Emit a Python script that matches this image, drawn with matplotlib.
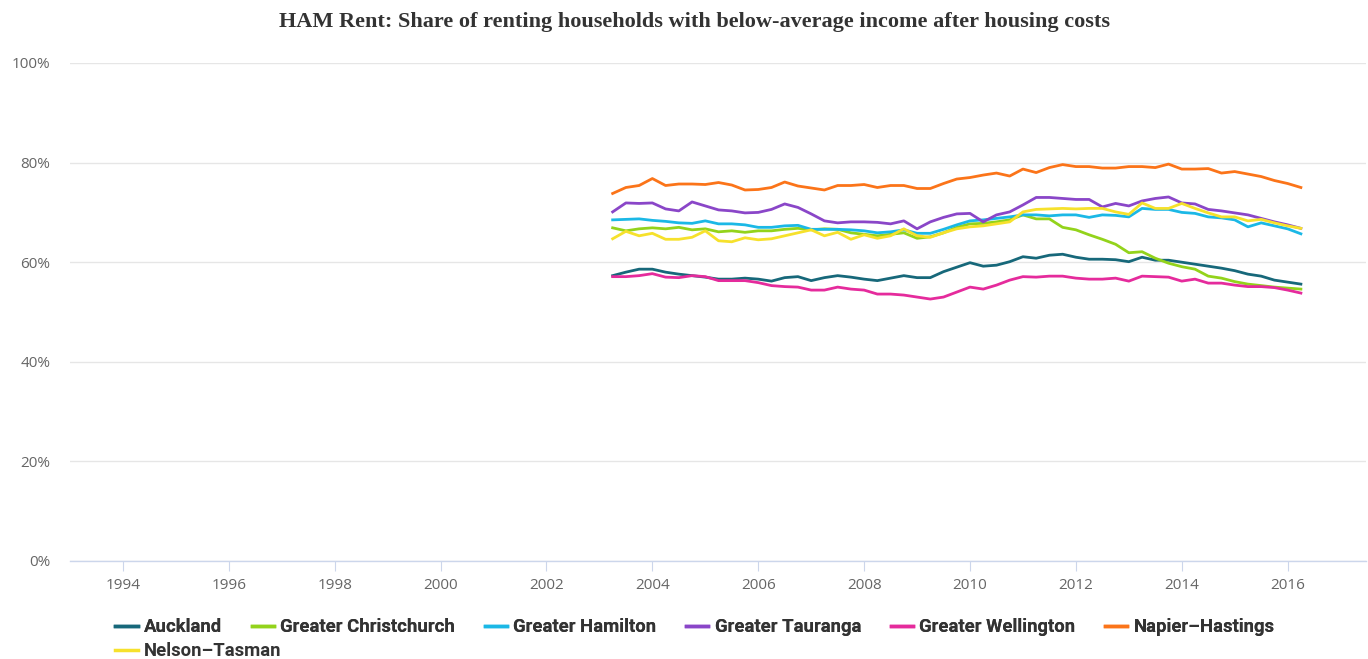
import matplotlib
matplotlib.use("Agg")
import matplotlib.pyplot as plt
import numpy as np
from matplotlib.lines import Line2D
from matplotlib.ticker import FuncFormatter

# Quarterly observations 2003 Q2 .. 2016 Q2
start_year = 2003.25
n_points = 53

auckland = [57.3, 58.0, 58.6, 58.6, 58.0, 57.6, 57.3, 57.0, 56.6,
            56.6, 56.8, 56.6, 56.2, 56.9, 57.1, 56.3, 56.9, 57.3,
            57.0, 56.6, 56.3, 56.8, 57.3, 56.9, 56.9, 58.1, 59.0,
            59.9, 59.2, 59.4, 60.1, 61.1, 60.8, 61.4, 61.6,
            61.0, 60.6, 60.6, 60.5, 60.1, 61.0, 60.4, 60.4, 60.0,
            59.6, 59.2, 58.8, 58.3, 57.6, 57.2, 56.4, 56.0, 55.6]
christchurch = [66.9, 66.3, 66.7, 66.9, 66.7, 67.0, 66.5, 66.7, 66.1,
                66.3, 66.0, 66.3, 66.3, 66.6, 66.8, 66.5, 66.7, 66.6,
                65.9, 65.6, 65.3, 65.6, 65.9, 64.8, 65.1, 65.9, 67.0,
                67.7, 67.8, 68.1, 68.5, 69.5, 68.7, 68.7, 67.0,
                66.5, 65.5, 64.6, 63.6, 61.9, 62.1, 60.8, 59.8, 59.1,
                58.6, 57.2, 56.8, 56.1, 55.6, 55.3, 55.0, 54.8, 54.6]
hamilton = [68.5, 68.6, 68.7, 68.4, 68.2, 67.9, 67.8, 68.3, 67.7,
            67.7, 67.5, 67.0, 67.0, 67.3, 67.4, 66.6, 66.6, 66.6,
            66.5, 66.3, 65.9, 66.1, 66.5, 65.8, 65.8, 66.6, 67.5,
            68.3, 68.5, 68.8, 69.1, 69.5, 69.5, 69.3, 69.5,
            69.5, 69.0, 69.5, 69.4, 69.1, 70.8, 70.6, 70.6, 70.0,
            69.8, 69.1, 68.9, 68.5, 67.1, 67.9, 67.3, 66.7, 65.7]
tauranga = [70.1, 71.9, 71.8, 71.9, 70.7, 70.3, 72.1, 71.3, 70.5,
            70.3, 69.9, 70.0, 70.6, 71.7, 71.0, 69.7, 68.3, 67.9,
            68.1, 68.1, 68.0, 67.7, 68.3, 66.7, 68.1, 69.0, 69.7,
            69.8, 68.1, 69.5, 70.1, 71.5, 73.0, 73.0, 72.8,
            72.6, 72.6, 71.1, 71.8, 71.3, 72.3, 72.8, 73.1, 71.9,
            71.7, 70.6, 70.3, 69.9, 69.5, 68.8, 68.1, 67.5, 66.8]
wellington = [57.1, 57.1, 57.3, 57.7, 57.0, 56.9, 57.3, 57.1, 56.3,
              56.3, 56.3, 55.9, 55.3, 55.1, 55.0, 54.4, 54.4, 55.0,
              54.6, 54.4, 53.6, 53.6, 53.4, 53.0, 52.6, 53.0, 54.0,
              55.0, 54.6, 55.4, 56.4, 57.1, 57.0, 57.2, 57.2,
              56.8, 56.6, 56.6, 56.8, 56.2, 57.2, 57.1, 57.0, 56.2,
              56.6, 55.8, 55.8, 55.4, 55.1, 55.1, 54.9, 54.4, 53.8]
napier = [73.8, 75.0, 75.4, 76.8, 75.4, 75.7, 75.7, 75.6, 76.0,
          75.5, 74.5, 74.6, 75.0, 76.1, 75.3, 74.9, 74.5, 75.4,
          75.4, 75.6, 75.0, 75.4, 75.4, 74.8, 74.8, 75.8, 76.7,
          77.0, 77.5, 77.9, 77.3, 78.7, 78.0, 79.0, 79.6,
          79.2, 79.2, 78.9, 78.9, 79.2, 79.2, 79.0, 79.7, 78.7,
          78.7, 78.8, 77.9, 78.2, 77.7, 77.2, 76.4, 75.8, 75.0]
nelson = [64.7, 66.2, 65.3, 65.8, 64.6, 64.6, 65.0, 66.3, 64.3,
          64.1, 64.9, 64.5, 64.7, 65.3, 65.9, 66.5, 65.3, 66.0,
          64.6, 65.5, 64.8, 65.3, 66.7, 65.3, 65.0, 65.9, 66.7,
          67.1, 67.3, 67.7, 68.1, 70.1, 70.6, 70.7, 70.8,
          70.7, 70.8, 70.8, 70.1, 69.6, 71.9, 70.8, 70.8, 71.8,
          70.8, 69.9, 69.1, 69.1, 68.3, 68.6, 67.9, 67.3, 66.8]

series_names = ["Auckland", "Greater Christchurch", "Greater Hamilton",
                "Greater Tauranga", "Greater Wellington", "Napier–Hastings",
                "Nelson–Tasman"]
series_values = [auckland, christchurch, hamilton, tauranga, wellington, napier, nelson]
colors = ["#17687a", "#93d31b", "#1bb8e6", "#8a46c8", "#e52b9c", "#fb7419", "#f6e12c"]

x_ticks = list(range(1994, 2017, 2))
y_ticks = [0, 20, 40, 60, 80, 100]
title = "HAM Rent: Share of renting households with below-average income after housing costs"

quarters = start_year + 0.25 * np.arange(n_points)

fig = plt.figure(figsize=(13.68, 6.59), dpi=100)
ax = fig.add_axes([70 / 1368, 1 - 561 / 659, 1296 / 1368, (561 - 63) / 659])

for vals, c in zip(series_values, colors):
    ax.plot(quarters, vals, color=c, lw=2.0, solid_joinstyle="round", zorder=3)

ax.set_xlim(1993.0, 2017.48)
ax.set_ylim(0, 100)
ax.set_yticks(y_ticks)
ax.set_xticks(x_ticks)
ax.yaxis.set_major_formatter(FuncFormatter(lambda v, p: f"{int(v)}%"))
ax.grid(axis="y", color="#e6e6e6", lw=1)
ax.set_axisbelow(True)
for s in ["top", "right", "left"]:
    ax.spines[s].set_visible(False)
ax.spines["bottom"].set_color("#ccd6eb")
ax.spines["bottom"].set_linewidth(1)
ax.tick_params(axis="x", length=7, color="#ccd6eb", labelcolor="#666666",
               labelsize=11, pad=5)
ax.tick_params(axis="y", length=0, labelcolor="#666666", labelsize=11, pad=14)
for lab in ax.get_xticklabels() + ax.get_yticklabels():
    lab.set_family("Open Sans")

fig.text(0.508, 0.966, title, ha="center", va="center",
         fontsize=16, fontweight="bold", family="Liberation Serif", color="#333333")

handles = [Line2D([0], [0], color=c, lw=2.5) for c in colors]
leg_font = {"family": "Roboto", "weight": "bold", "size": 13.3}
common = dict(frameon=False, prop=leg_font, handlelength=1.2, handletextpad=0.35,
              labelcolor="#333333")
leg1 = fig.legend(handles[:6], series_names[:6], ncol=6, loc="center",
                  bbox_to_anchor=(0.508, 1 - 627 / 659), columnspacing=1.6, **common)
fig.canvas.draw()
bb = leg1.get_window_extent().transformed(fig.transFigure.inverted())
leg2 = fig.legend(handles[6:], series_names[6:], loc="center left",
                  bbox_to_anchor=(bb.x0, 1 - 651 / 659), borderaxespad=0, **common)
fig.add_artist(leg1)

fig.savefig("out.png", dpi=100, facecolor="white")
